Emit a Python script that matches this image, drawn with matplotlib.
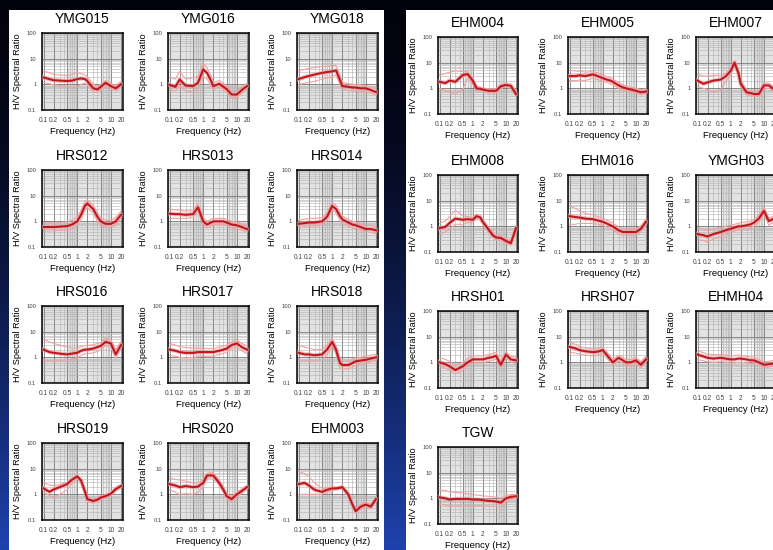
import matplotlib.pyplot as plt
import numpy as np
from matplotlib.patches import Rectangle

freq = [0.1, 0.15, 0.2, 0.3, 0.5, 0.7, 1.0, 1.3, 1.7, 2.0, 3.0, 4.0, 5.0, 7.0, 10.0, 14.0, 20.0]

left_stations = ["YMG015", "YMG016", "YMG018",
                 "HRS012", "HRS013", "HRS014",
                 "HRS016", "HRS017", "HRS018",
                 "HRS019", "HRS020", "EHM003"]
right_stations = ["EHM004", "EHM005", "EHM007",
                  "EHM008", "EHM016", "YMGH03",
                  "HRSH01", "HRSH07", "EHMH04",
                  "TGW"]

# mean H/V ratio
hv_mean = {
    "YMG015": [1.85, 1.6, 1.45, 1.4, 1.35, 1.4, 1.6, 1.7, 1.6, 1.35, 0.7, 0.63, 0.8, 1.15, 0.85, 0.7, 1.0],
    "YMG016": [0.95, 0.8, 1.55, 0.9, 0.85, 1.15, 3.8, 2.8, 1.4, 0.85, 1.05, 0.8, 0.65, 0.4, 0.4, 0.6, 0.85],
    "YMG018": [1.6, 1.9, 2.1, 2.4, 2.8, 3.0, 3.2, 3.5, 1.5, 0.85, 0.8, 0.75, 0.75, 0.7, 0.7, 0.6, 0.5],
    "HRS012": [0.6, 0.6, 0.6, 0.62, 0.65, 0.75, 1.0, 1.8, 4.0, 5.0, 3.0, 1.5, 1.0, 0.8, 0.8, 1.0, 1.8],
    "HRS013": [2.0, 1.9, 1.9, 1.8, 1.9, 3.5, 1.0, 0.75, 0.9, 1.0, 1.0, 1.0, 0.9, 0.75, 0.7, 0.6, 0.5],
    "HRS014": [0.8, 0.85, 0.9, 0.9, 1.0, 1.5, 4.0, 3.0, 1.6, 1.2, 0.9, 0.75, 0.7, 0.6, 0.5, 0.5, 0.45],
    "HRS016": [2.0, 1.6, 1.5, 1.4, 1.3, 1.4, 1.5, 1.8, 2.0, 2.0, 2.2, 2.5, 2.8, 4.0, 3.5, 1.3, 3.0],
    "HRS017": [2.0, 1.8, 1.6, 1.5, 1.5, 1.6, 1.6, 1.6, 1.6, 1.6, 1.8, 2.0, 2.2, 3.0, 3.5, 2.5, 2.0],
    "HRS018": [1.5, 1.3, 1.3, 1.2, 1.3, 2.0, 4.0, 2.0, 0.6, 0.5, 0.5, 0.6, 0.7, 0.75, 0.8, 0.9, 1.0],
    "HRS019": [1.7, 1.25, 1.55, 1.9, 2.5, 3.7, 5.0, 3.5, 1.3, 0.65, 0.55, 0.62, 0.75, 0.85, 1.05, 1.6, 2.1],
    "HRS020": [2.5, 2.2, 1.9, 2.1, 1.9, 2.0, 2.8, 5.4, 5.5, 5.4, 2.8, 1.5, 0.85, 0.65, 1.0, 1.35, 1.9],
    "EHM003": [2.5, 2.8, 2.25, 1.5, 1.25, 1.5, 1.7, 1.7, 1.8, 1.9, 1.0, 0.4, 0.22, 0.33, 0.4, 0.33, 0.65],
    "EHM004": [1.8, 1.6, 2.0, 1.8, 3.3, 3.6, 2.0, 1.0, 0.95, 0.9, 0.8, 0.8, 0.8, 1.2, 1.35, 1.25, 0.6],
    "EHM005": [3.0, 3.0, 3.2, 3.0, 3.5, 3.0, 2.5, 2.2, 2.0, 1.8, 1.3, 1.1, 1.0, 0.9, 0.8, 0.7, 0.75],
    "EHM007": [2.0, 1.5, 1.7, 2.0, 2.2, 2.9, 4.8, 10.0, 4.0, 1.5, 0.7, 0.65, 0.6, 0.6, 1.3, 1.3, 0.9],
    "EHM008": [0.85, 0.95, 1.35, 2.0, 1.8, 1.9, 1.8, 2.5, 2.2, 1.5, 0.75, 0.45, 0.37, 0.35, 0.27, 0.22, 0.85],
    "EHM016": [2.5, 2.3, 2.2, 2.0, 1.9, 1.7, 1.5, 1.3, 1.1, 1.0, 0.7, 0.6, 0.6, 0.6, 0.6, 0.8, 1.5],
    "YMGH03": [0.5, 0.45, 0.4, 0.5, 0.6, 0.7, 0.8, 0.9, 1.0, 1.0, 1.1, 1.2, 1.4, 2.0, 4.0, 1.6, 2.0],
    "HRSH01": [1.0, 0.85, 0.7, 0.5, 0.7, 1.0, 1.3, 1.3, 1.3, 1.3, 1.5, 1.6, 1.8, 0.8, 2.0, 1.3, 1.2],
    "HRSH07": [4.0, 3.5, 3.0, 2.7, 2.5, 2.6, 3.0, 2.0, 1.3, 1.0, 1.5, 1.2, 1.0, 1.0, 1.2, 0.8, 1.3],
    "EHMH04": [2.0, 1.7, 1.5, 1.4, 1.5, 1.4, 1.3, 1.3, 1.4, 1.4, 1.3, 1.2, 1.2, 1.0, 0.8, 0.85, 0.9],
    "TGW":    [1.1, 1.0, 0.9, 0.95, 0.95, 0.95, 0.9, 0.9, 0.88, 0.85, 0.8, 0.78, 0.75, 0.68, 1.0, 1.15, 1.2],
}

# mean + 1 sigma
hv_upper = {
    "YMG015": [3.4, 2.8, 2.4, 2.3, 2.2, 2.4, 2.9, 2.6, 2.3, 2.0, 1.0, 0.85, 1.0, 1.4, 1.1, 0.9, 1.3],
    "YMG016": [1.8, 1.6, 3.2, 1.6, 1.8, 2.0, 6.5, 4.5, 2.2, 1.2, 1.4, 1.1, 0.9, 0.55, 0.55, 0.8, 1.1],
    "YMG018": [3.3, 3.8, 4.2, 4.5, 5.0, 5.0, 5.2, 5.5, 2.3, 1.2, 1.05, 1.0, 1.0, 0.95, 0.9, 0.8, 0.7],
    "HRS012": [0.9, 0.9, 0.85, 0.9, 0.95, 1.1, 1.5, 2.6, 6.0, 7.0, 4.2, 2.1, 1.4, 1.1, 1.1, 1.4, 2.5],
    "HRS013": [3.0, 2.8, 2.7, 2.5, 2.6, 4.8, 1.4, 1.0, 1.2, 1.3, 1.3, 1.3, 1.2, 1.0, 0.95, 0.8, 0.7],
    "HRS014": [1.1, 1.2, 1.3, 1.3, 1.4, 2.1, 5.5, 4.2, 2.2, 1.6, 1.2, 1.0, 0.95, 0.8, 0.7, 0.7, 0.6],
    "HRS016": [5.0, 4.0, 3.5, 3.0, 2.5, 2.3, 2.3, 2.6, 2.9, 2.9, 3.1, 3.5, 3.8, 5.5, 4.8, 2.0, 4.0],
    "HRS017": [3.5, 3.0, 2.6, 2.4, 2.3, 2.3, 2.3, 2.2, 2.2, 2.2, 2.5, 2.8, 3.0, 4.0, 4.8, 3.5, 2.8],
    "HRS018": [3.0, 2.5, 2.3, 2.0, 2.0, 3.0, 5.5, 2.8, 0.9, 0.7, 0.7, 0.85, 0.95, 1.0, 1.1, 1.2, 1.3],
    "HRS019": [2.8, 2.3, 2.2, 2.4, 2.9, 4.0, 5.3, 3.9, 1.5, 0.75, 0.65, 0.72, 0.85, 0.95, 1.2, 1.8, 2.4],
    "HRS020": [4.3, 3.8, 3.6, 3.3, 2.8, 2.8, 3.6, 6.8, 7.0, 6.8, 3.5, 1.9, 1.1, 0.8, 1.2, 1.6, 2.2],
    "EHM003": [7.6, 6.5, 5.0, 2.8, 1.7, 1.8, 1.9, 1.9, 2.0, 2.1, 1.2, 0.5, 0.28, 0.4, 0.48, 0.4, 0.75],
    "EHM004": [3.3, 3.8, 4.2, 4.8, 4.5, 4.6, 2.5, 1.2, 1.1, 1.05, 0.95, 0.95, 0.95, 1.4, 1.6, 1.5, 0.75],
    "EHM005": [5.0, 4.8, 4.6, 4.3, 4.5, 4.0, 3.3, 2.9, 2.6, 2.3, 1.7, 1.4, 1.25, 1.1, 1.0, 0.9, 0.95],
    "EHM007": [3.5, 3.0, 3.0, 3.2, 3.3, 3.8, 6.0, 12.0, 5.0, 2.0, 0.9, 0.8, 0.75, 0.75, 1.6, 1.6, 1.1],
    "EHM008": [1.3, 1.6, 2.4, 4.2, 2.6, 2.4, 2.2, 3.0, 2.7, 1.8, 0.9, 0.55, 0.45, 0.42, 0.33, 0.27, 1.0],
    "EHM016": [6.0, 5.0, 4.0, 3.2, 2.8, 2.4, 2.1, 1.8, 1.5, 1.35, 0.95, 0.8, 0.8, 0.8, 0.8, 1.05, 1.9],
    "YMGH03": [0.9, 0.8, 0.7, 0.8, 0.9, 1.0, 1.1, 1.2, 1.3, 1.4, 1.5, 1.6, 1.9, 2.7, 5.5, 2.0, 2.6],
    "HRSH01": [1.5, 1.3, 1.1, 0.8, 1.0, 1.4, 1.8, 1.8, 1.8, 1.8, 2.0, 2.2, 2.5, 1.1, 2.6, 1.7, 1.6],
    "HRSH07": [6.0, 5.0, 4.2, 3.6, 3.3, 3.3, 3.8, 2.6, 1.7, 1.3, 1.9, 1.55, 1.3, 1.3, 1.55, 1.05, 1.7],
    "EHMH04": [2.8, 2.4, 2.1, 2.0, 2.0, 1.9, 1.8, 1.8, 1.9, 1.9, 1.7, 1.6, 1.6, 1.3, 1.05, 1.1, 1.2],
    "TGW":    [2.2, 2.0, 1.8, 1.7, 1.6, 1.5, 1.4, 1.35, 1.3, 1.25, 1.2, 1.15, 1.1, 1.0, 1.3, 1.4, 1.4],
}

# mean - 1 sigma
hv_lower = {
    "YMG015": [1.2, 1.05, 0.95, 0.9, 0.85, 0.8, 0.8, 1.0, 1.1, 0.95, 0.5, 0.48, 0.6, 0.9, 0.65, 0.55, 0.8],
    "YMG016": [0.65, 0.55, 0.9, 0.55, 0.5, 0.7, 2.1, 1.6, 0.9, 0.6, 0.8, 0.6, 0.5, 0.3, 0.3, 0.45, 0.65],
    "YMG018": [1.0, 1.1, 1.2, 1.3, 1.6, 1.8, 2.0, 2.3, 1.0, 0.6, 0.6, 0.55, 0.55, 0.5, 0.5, 0.45, 0.38],
    "HRS012": [0.42, 0.42, 0.42, 0.45, 0.45, 0.5, 0.7, 1.2, 2.7, 3.5, 2.1, 1.0, 0.7, 0.6, 0.6, 0.7, 1.3],
    "HRS013": [1.3, 1.3, 1.3, 1.3, 1.4, 2.5, 0.7, 0.55, 0.65, 0.75, 0.75, 0.75, 0.7, 0.55, 0.5, 0.45, 0.38],
    "HRS014": [0.6, 0.6, 0.65, 0.65, 0.7, 1.1, 2.9, 2.1, 1.1, 0.85, 0.65, 0.55, 0.5, 0.45, 0.38, 0.38, 0.33],
    "HRS016": [0.8, 0.7, 0.7, 0.7, 0.75, 0.85, 0.95, 1.2, 1.35, 1.4, 1.5, 1.7, 2.0, 2.9, 2.5, 0.9, 2.2],
    "HRS017": [1.2, 1.1, 1.0, 0.95, 1.0, 1.05, 1.1, 1.1, 1.1, 1.1, 1.3, 1.4, 1.6, 2.2, 2.5, 1.8, 1.4],
    "HRS018": [0.8, 0.7, 0.7, 0.7, 0.8, 1.3, 2.8, 1.4, 0.4, 0.35, 0.35, 0.42, 0.5, 0.55, 0.6, 0.65, 0.75],
    "HRS019": [1.2, 0.9, 0.75, 1.0, 1.5, 2.6, 4.0, 2.8, 1.0, 0.5, 0.45, 0.5, 0.62, 0.72, 0.9, 1.35, 1.8],
    "HRS020": [1.5, 1.2, 1.0, 1.05, 1.0, 1.2, 2.0, 4.2, 4.4, 4.2, 2.2, 1.2, 0.68, 0.52, 0.82, 1.1, 1.6],
    "EHM003": [1.0, 1.0, 1.0, 1.0, 1.0, 1.2, 1.4, 1.5, 1.6, 1.7, 0.85, 0.32, 0.18, 0.27, 0.33, 0.27, 0.55],
    "EHM004": [1.0, 0.8, 0.7, 0.6, 0.9, 2.6, 1.5, 0.8, 0.8, 0.75, 0.65, 0.65, 0.65, 1.0, 1.15, 1.05, 0.5],
    "EHM005": [2.0, 2.0, 2.1, 2.0, 2.5, 2.2, 1.9, 1.7, 1.5, 1.35, 1.0, 0.85, 0.8, 0.7, 0.65, 0.55, 0.6],
    "EHM007": [1.2, 1.0, 0.9, 0.7, 0.9, 1.8, 3.5, 8.0, 3.0, 1.1, 0.55, 0.5, 0.48, 0.48, 1.0, 1.0, 0.7],
    "EHM008": [0.5, 0.6, 0.8, 1.2, 1.2, 1.4, 1.4, 2.0, 1.7, 1.2, 0.6, 0.37, 0.3, 0.28, 0.22, 0.18, 0.7],
    "EHM016": [1.2, 1.2, 1.3, 1.3, 1.3, 1.2, 1.1, 0.95, 0.8, 0.75, 0.5, 0.45, 0.45, 0.45, 0.45, 0.6, 1.15],
    "YMGH03": [0.3, 0.28, 0.25, 0.32, 0.4, 0.5, 0.6, 0.65, 0.75, 0.75, 0.8, 0.9, 1.0, 1.45, 2.9, 1.1, 1.5],
    "HRSH01": [0.7, 0.6, 0.5, 0.35, 0.5, 0.75, 0.95, 0.95, 0.95, 0.95, 1.1, 1.2, 1.3, 0.6, 1.5, 1.0, 0.9],
    "HRSH07": [2.5, 2.3, 2.1, 1.9, 1.8, 1.9, 2.3, 1.5, 1.0, 0.75, 1.15, 0.9, 0.75, 0.75, 0.9, 0.6, 1.0],
    "EHMH04": [1.3, 1.15, 1.05, 1.0, 1.05, 1.0, 0.95, 0.95, 1.0, 1.0, 0.95, 0.9, 0.9, 0.75, 0.6, 0.65, 0.7],
    "TGW":    [0.6, 0.55, 0.5, 0.5, 0.5, 0.52, 0.52, 0.52, 0.52, 0.52, 0.5, 0.5, 0.5, 0.45, 0.75, 0.9, 1.0],
}

x_ticks = [0.1, 0.2, 0.5, 1, 2, 5, 10, 20]
x_ticklabels = ["0.1", "0.2", "0.5", "1", "2", "5", "10", "20"]
y_ticks = [0.1, 1, 10, 100]
y_ticklabels = ["0.1", "1", "10", "100"]

W, H = 773, 550
plt.rcParams['font.family'] = ['Liberation Sans', 'DejaVu Sans']
fig = plt.figure(figsize=(W / 100, H / 100), dpi=100)

# dark-to-blue backdrop
bg = fig.add_axes([0, 0, 1, 1])
grad = np.linspace(0, 1, 256) ** 1.6
col_top = np.array([0.01, 0.01, 0.05])
col_bot = np.array([0.12, 0.26, 0.68])
img = col_top[None, :] * (1 - grad[:, None]) + col_bot[None, :] * grad[:, None]
bg.imshow(img[:, None, :], aspect='auto', extent=[0, 1, 0, 1], origin='upper')
bg.set_xlim(0, 1)
bg.set_ylim(0, 1)
bg.axis('off')

# white panels (pixel coords)
for x0, x1 in [(9, 384), (406, 773)]:
    bg.add_patch(Rectangle((x0 / W, 0), (x1 - x0) / W, (H - 10) / H,
                           facecolor='white', edgecolor='none', zorder=2))


def draw_station(ax, name):
    ax.set_xscale('log')
    ax.set_yscale('log')
    ax.set_xlim(0.09, 23)
    ax.set_ylim(0.1, 100)
    ax.set_facecolor('white')
    for y0, y1 in [(10, 100), (0.1, 1)]:
        ax.axhspan(y0, y1, color='#e2e2e2', lw=0, zorder=0)
    for x0, x1 in [(0.5, 1), (5, 10)]:
        ax.axvspan(x0, x1, color='#c0c0c0', alpha=0.3, lw=0, zorder=0)
    ax.grid(True, which='minor', color='#b0b0b0', lw=0.4, zorder=1)
    ax.grid(True, which='major', color='#777777', lw=0.6, zorder=1)
    ax.plot(freq, hv_upper[name], color='#f4a0a0', lw=0.8, zorder=3)
    ax.plot(freq, hv_lower[name], color='#f4a0a0', lw=0.8, zorder=3)
    ax.plot(freq, hv_mean[name], color='#eaa0a0', lw=3.2, alpha=0.6, zorder=4)
    ax.plot(freq, hv_mean[name], color='#c0161e', lw=1.5, zorder=5)
    ax.set_xticks(x_ticks)
    ax.set_xticklabels(x_ticklabels)
    ax.set_yticks(y_ticks)
    ax.set_yticklabels(y_ticklabels)
    ax.tick_params(which='both', length=0, labelcolor='#444444')
    ax.tick_params(axis='x', pad=5, labelsize=4.8)
    ax.tick_params(axis='y', pad=4, labelsize=4.2)
    for s in ax.spines.values():
        s.set_linewidth(1.1)
        s.set_color('black')
    ax.set_title(name, fontsize=10, pad=7)
    ax.set_xlabel("Frequency (Hz)", fontsize=6.8, labelpad=2)
    ax.set_ylabel("H/V Spectral Ratio", fontsize=6.6, labelpad=3)


def add_axes_px(left, top, w, h):
    return fig.add_axes([left / W, 1 - (top + h) / H, w / W, h / H])


left_cols = [42, 168, 297]
left_rows = [33, 170, 306, 443]
for i, name in enumerate(left_stations):
    ax = add_axes_px(left_cols[i % 3], left_rows[i // 3], 81, 77)
    draw_station(ax, name)

right_cols = [438, 568, 696]
right_rows = [37, 175, 311, 447]
for i, name in enumerate(right_stations):
    ax = add_axes_px(right_cols[i % 3], right_rows[i // 3], 80, 77)
    draw_station(ax, name)

fig.savefig("out.png", dpi=100, facecolor='black')
